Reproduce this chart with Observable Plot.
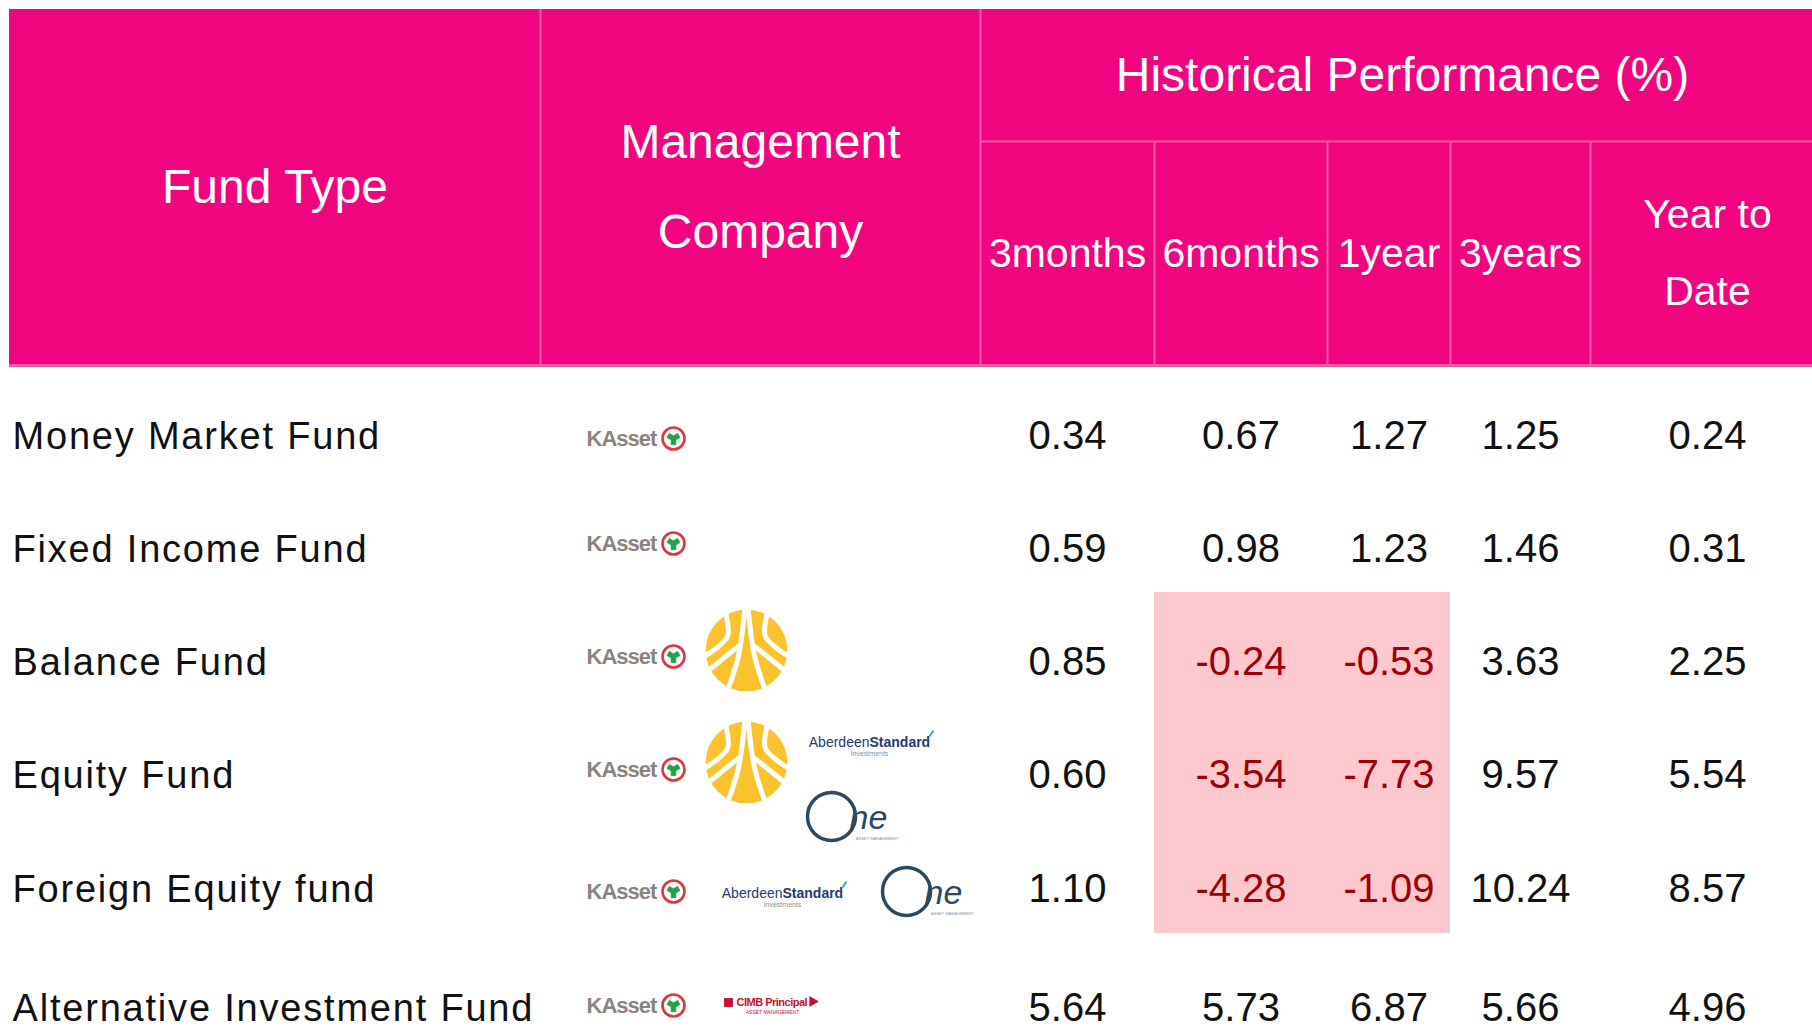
<!DOCTYPE html>
<html>
<head>
<meta charset="utf-8">
<script src="https://cdn.jsdelivr.net/npm/d3@7"></script>
<script src="https://cdn.jsdelivr.net/npm/@observablehq/plot@0.6"></script>
<style>
  html, body { margin: 0; padding: 0; background: #ffffff; }
  #chart svg { display: block; }
</style>
</head>
<body>
<div id="chart"></div>
<script>
// ---------------- DATA ----------------
const fundTypes = [
  "Money Market Fund",
  "Fixed Income Fund",
  "Balance Fund",
  "Equity Fund",
  "Foreign Equity fund",
  "Alternative Investment Fund"
];
const headerLabels = ["Fund Type", "Management\nCompany", "Historical Performance (%)"];
const periods = ["3months", "6months", "1year", "3years", "Year to\nDate"];
const ret3m  = [0.34, 0.59, 0.85, 0.60, 1.10, 5.64];
const ret6m  = [0.67, 0.98, -0.24, -3.54, -4.28, 5.73];
const ret1y  = [1.27, 1.23, -0.53, -7.73, -1.09, 6.87];
const ret3y  = [1.25, 1.46, 3.63, 9.57, 10.24, 5.66];
const retYtd = [0.24, 0.31, 2.25, 5.54, 8.57, 4.96];
const managers = [
  ["KAsset"],
  ["KAsset"],
  ["KAsset", "Krungsri"],
  ["KAsset", "Krungsri", "Aberdeen Standard", "One"],
  ["KAsset", "Aberdeen Standard", "One"],
  ["KAsset", "CIMB Principal"]
];

// ---------------- LAYOUT / STYLE ----------------
const W = 1812, H = 1031;
const headTop = 9, headMid = 141, headBottom = 365;
const colEdges = [9, 540, 980, 1154, 1327, 1450, 1590, 1824];
const rowCenters = [436, 549, 662, 775, 889, 1008];
const cellAbove = 70, cellBelow = 44;
const labelX = 12;
const PINK = "#f0047f", PINK_LINE = "#ea5aa2";
const NEG_FILL = "#ffc7ce", NEG_TEXT = "#9c0006", TEXT = "#111111";
const FONT = "Liberation Sans, Arial, sans-serif";
const headLH = 1.875, subLH = 1.88, headFS = 48, subFS = 41;

// logo layout
const kassetX = 586, kassetRingX = 673;
const kassetY = [438, 543, 656, 769, 891, 1005];
const logoSlots = {
  "2|Krungsri": [746, 650], "3|Krungsri": [746, 762],
  "3|Aberdeen Standard": [808, 742], "4|Aberdeen Standard": [721, 893],
  "3|One": [831, 816], "4|One": [906, 891],
  "5|CIMB Principal": [722, 1002]
};
const krR = 41;
// white strokes of the Krungsri emblem, in units of the radius
const krStrokes = [
  [[-0.52, -0.95], [-0.46, -0.35], [-0.99, 0.12]],
  [[0.52, -0.95], [0.46, -0.35], [0.99, 0.12]],
  [[-0.04, -1.02], [-0.2, 0.15], [-0.46, 0.97]],
  [[0.04, -1.02], [0.2, 0.15], [0.46, 0.97]],
  [[-0.2, -0.1], [-0.55, 0.18], [-0.92, 0.48]],
  [[0.2, -0.1], [0.55, 0.18], [0.92, 0.48]]
];

// ---------------- DERIVED TABLES ----------------
const series = [ret3m, ret6m, ret1y, ret3y, retYtd];
const cells = fundTypes.flatMap((f, i) => periods.map((p, j) => ({
  fund: f, row: i, col: j, period: p, value: series[j][i],
  x1: colEdges[2 + j], x2: colEdges[3 + j],
  xc: (colEdges[2 + j] + colEdges[3 + j]) / 2,
  y: rowCenters[i], y1: rowCenters[i] - cellAbove, y2: rowCenters[i] + cellBelow
})));
const topHead = headerLabels.map((label, k) => {
  const x1 = colEdges[k], x2 = k < 2 ? colEdges[k + 1] : colEdges[7];
  const y1 = headTop, y2 = k < 2 ? headBottom : headMid;
  return {label, x1, x2, y1, y2, xc: (x1 + x2) / 2, yc: (y1 + y2) / 2};
});
const subHead = periods.map((label, j) => {
  const x1 = colEdges[2 + j], x2 = colEdges[3 + j];
  return {label, x1, x2, y1: headMid, y2: headBottom, xc: (x1 + x2) / 2, yc: (headMid + headBottom) / 2};
});
const logos = managers.flatMap((list, row) => list.map(company => {
  const slot = logoSlots[row + "|" + company];
  return {row, company, x: slot ? slot[0] : kassetX, y: slot ? slot[1] : kassetY[row]};
}));
const byCo = c => logos.filter(d => d.company === c);
const krPaths = byCo("Krungsri").flatMap((d, li) => krStrokes.flatMap((s, si) => s.map(p => ({
  z: li + "-" + si, x: d.x + p[0] * krR, y: d.y + p[1] * krR
}))));
const fmt = d3.formatLocale({decimal: ".", thousands: ",", grouping: [3], currency: ["", ""], minus: "-"}).format(".2f");

// ---------------- PLOT ----------------
const chart = Plot.plot({
  width: W, height: H, margin: 0,
  style: {fontFamily: FONT, background: "#ffffff"},
  x: {type: "linear", domain: [0, W], range: [0, W], axis: null},
  y: {type: "linear", domain: [0, H], range: [0, H], axis: null},
  marks: [
    // header cells
    Plot.rect([...topHead, ...subHead], {x1: "x1", x2: "x2", y1: "y1", y2: "y2", fill: PINK}),
    // header dividers
    Plot.ruleX([colEdges[1], colEdges[2]], {x: d => d, y1: headTop, y2: headBottom, stroke: PINK_LINE, strokeWidth: 2}),
    Plot.ruleX(colEdges.slice(3, 7), {x: d => d, y1: headMid, y2: headBottom, stroke: PINK_LINE, strokeWidth: 2}),
    Plot.ruleY([headMid], {y: d => d, x1: colEdges[2], x2: W, stroke: PINK_LINE, strokeWidth: 2}),
    Plot.ruleY([headBottom], {y: d => d, x1: colEdges[0], x2: W, stroke: PINK_LINE, strokeWidth: 3}),
    // header labels
    Plot.text(topHead, {x: "xc", y: "yc", text: "label", fill: "white", fontSize: headFS, lineHeight: headLH, dy: -(headLH - 1) * 0.32 * headFS}),
    Plot.text(subHead, {x: "xc", y: "yc", text: "label", fill: "white", fontSize: subFS, lineHeight: subLH, dy: -(subLH - 1) * 0.32 * subFS}),
    // negative highlight
    Plot.rect(cells.filter(d => d.value < 0), {x1: "x1", x2: "x2", y1: "y1", y2: "y2", fill: NEG_FILL, shapeRendering: "crispEdges"}),
    // values
    Plot.text(cells.filter(d => d.value >= 0), {x: "xc", y: "y", text: d => fmt(d.value), fill: TEXT, fontSize: 40}),
    Plot.text(cells.filter(d => d.value < 0), {x: "xc", y: "y", text: d => fmt(d.value), fill: NEG_TEXT, fontSize: 40}),
    // fund type labels
    Plot.text(fundTypes, {x: labelX, y: (d, i) => rowCenters[i], text: d => d, textAnchor: "start", fill: TEXT, fontSize: 38}),

    // ---- logos ----
    // KAsset
    Plot.text(byCo("KAsset"), {x: "x", y: "y", text: () => "KAsset", textAnchor: "start", fontWeight: "bold", fontSize: 22, fill: "#8b827c"}),
    Plot.dot(byCo("KAsset"), {x: () => kassetRingX, y: "y", r: 11, stroke: "#e2343a", strokeWidth: 2.6, fill: "white"}),
    Plot.dot(byCo("KAsset"), {x: () => kassetRingX, y: "y", r: 5, symbol: "wye", fill: "#25a245", stroke: "#25a245", strokeWidth: 0.6}),
    // Krungsri
    Plot.dot(byCo("Krungsri"), {x: "x", y: "y", r: krR, fill: "#fcc22e"}),
    Plot.line(krPaths, {x: "x", y: "y", z: "z", curve: "catmull-rom", stroke: "white", strokeWidth: 5, strokeLinecap: "round"}),
    Plot.dot(byCo("Krungsri"), {x: "x", y: "y", r: krR + 3.5, stroke: "white", strokeWidth: 7, fill: "none"}),
    // Aberdeen Standard
    Plot.text(byCo("Aberdeen Standard"), {x: d => d.x + 61, y: "y", text: () => "Aberdeen", textAnchor: "end", fontSize: 14, fill: "#243b70"}),
    Plot.text(byCo("Aberdeen Standard"), {x: d => d.x + 61, y: "y", text: () => "Standard", textAnchor: "start", fontWeight: "bold", fontSize: 14, fill: "#243b70"}),
    Plot.text(byCo("Aberdeen Standard"), {x: d => d.x + 61, y: d => d.y + 11, text: () => "Investments", fontSize: 7, fill: "#8a8f99"}),
    Plot.link(byCo("Aberdeen Standard"), {x1: d => d.x + 121, y1: d => d.y - 6, x2: d => d.x + 125, y2: d => d.y - 12, stroke: "#3a9fd8", strokeWidth: 2}),
    // One
    Plot.dot(byCo("One"), {x: "x", y: "y", r: 24, stroke: "#2b4a62", strokeWidth: 3.5, fill: "none"}),
    Plot.text(byCo("One"), {x: d => d.x + 18, y: d => d.y + 2, text: () => "ne", textAnchor: "start", fontSize: 34, fontStyle: "italic", fill: "#2b4a62"}),
    Plot.text(byCo("One"), {x: d => d.x + 46, y: d => d.y + 22, text: () => "ASSET MANAGEMENT", fontSize: 4, fill: "#8a8f99"}),
    // CIMB Principal
    Plot.dot(byCo("CIMB Principal"), {x: d => d.x + 6, y: "y", r: 5, symbol: "square", fill: "#c8102e"}),
    Plot.text(byCo("CIMB Principal"), {x: d => d.x + 14, y: "y", text: () => "CIMB Principal", textAnchor: "start", fontWeight: "bold", fontSize: 11, fill: "#c8102e"}),
    Plot.dot(byCo("CIMB Principal"), {x: d => d.x + 90, y: d => d.y - 1, r: 4, symbol: "triangle", rotate: 90, fill: "#c8102e"}),
    Plot.text(byCo("CIMB Principal"), {x: d => d.x + 50, y: d => d.y + 10, text: () => "ASSET MANAGEMENT", fontSize: 5, fill: "#c8102e"})
  ]
});
// letter spacing tweaks applied to rendered text
const spacing = new Map([...fundTypes.map(f => [f, "1.8px"]), ["KAsset", "-1px"], ["CIMB Principal", "-0.5px"]]);
d3.select(chart).selectAll("text").each(function() {
  const s = spacing.get(this.textContent);
  if (s) this.setAttribute("letter-spacing", s);
});
document.getElementById("chart").appendChild(chart);
</script>
</body>
</html>
